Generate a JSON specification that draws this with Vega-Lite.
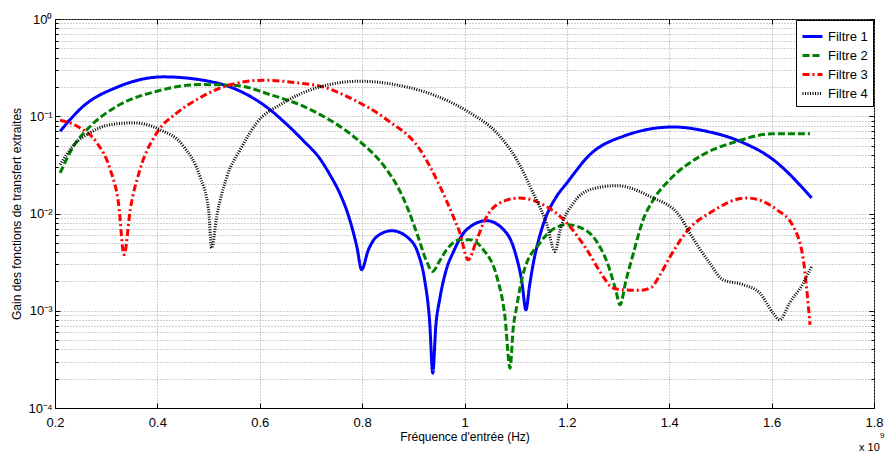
{
 "$schema": "https://vega.github.io/schema/vega-lite/v6.json",
 "width": 819, "height": 389,
 "autosize": "none",
 "padding": {"left": 55, "top": 19, "right": 11, "bottom": 46},
 "background": "white",
 "config": {
  "font": "Liberation Sans",
  "view": {"stroke": "black", "strokeWidth": 1},
  "axis": {"labelFont": "Liberation Sans", "titleFont": "Liberation Sans", "labelFontSize": 13, "titleFontSize": 12, "titleFontWeight": "normal", "labelColor": "black", "titleColor": "black", "domainColor": "black", "tickColor": "black", "gridColor": "#a0a0a0", "gridDash": [1, 2], "gridWidth": 1}
 },
 "data": {"values": [
  {"s":"Filtre 1","f":0.210,"g":0.0700},{"s":"Filtre 1","f":0.255,"g":0.1265},{"s":"Filtre 1","f":0.321,"g":0.1986},{"s":"Filtre 1","f":0.412,"g":0.2541},{"s":"Filtre 1","f":0.490,"g":0.2344},{"s":"Filtre 1","f":0.555,"g":0.1879},{"s":"Filtre 1","f":0.620,"g":0.1169},{"s":"Filtre 1","f":0.650,"g":0.0851},{"s":"Filtre 1","f":0.685,"g":0.0562},{"s":"Filtre 1","f":0.718,"g":0.0363},{"s":"Filtre 1","f":0.737,"g":0.0251},{"s":"Filtre 1","f":0.757,"g":0.01585},{"s":"Filtre 1","f":0.775,"g":0.00891},{"s":"Filtre 1","f":0.790,"g":0.00447},{"s":"Filtre 1","f":0.799,"g":0.00264},{"s":"Filtre 1","f":0.812,"g":0.00420},{"s":"Filtre 1","f":0.829,"g":0.00581},{"s":"Filtre 1","f":0.858,"g":0.00665},{"s":"Filtre 1","f":0.894,"g":0.00537},{"s":"Filtre 1","f":0.910,"g":0.00380},{"s":"Filtre 1","f":0.922,"g":0.00210},{"s":"Filtre 1","f":0.932,"g":0.000760},{"s":"Filtre 1","f":0.938,"g":0.000228},{"s":"Filtre 1","f":0.944,"g":0.000700},{"s":"Filtre 1","f":0.952,"g":0.001350},{"s":"Filtre 1","f":0.964,"g":0.00260},{"s":"Filtre 1","f":0.978,"g":0.00400},{"s":"Filtre 1","f":1.004,"g":0.00681},{"s":"Filtre 1","f":1.043,"g":0.00843},{"s":"Filtre 1","f":1.082,"g":0.00631},{"s":"Filtre 1","f":1.100,"g":0.00380},{"s":"Filtre 1","f":1.112,"g":0.00200},{"s":"Filtre 1","f":1.120,"g":0.001023},{"s":"Filtre 1","f":1.127,"g":0.00180},{"s":"Filtre 1","f":1.134,"g":0.00300},{"s":"Filtre 1","f":1.145,"g":0.00537},{"s":"Filtre 1","f":1.157,"g":0.00863},{"s":"Filtre 1","f":1.178,"g":0.01445},{"s":"Filtre 1","f":1.200,"g":0.0206},{"s":"Filtre 1","f":1.245,"g":0.0403},{"s":"Filtre 1","f":1.310,"g":0.0622},{"s":"Filtre 1","f":1.408,"g":0.0776},{"s":"Filtre 1","f":1.473,"g":0.0700},{"s":"Filtre 1","f":1.538,"g":0.0552},{"s":"Filtre 1","f":1.603,"g":0.0358},{"s":"Filtre 1","f":1.678,"g":0.01445},
  {"s":"Filtre 2","f":0.210,"g":0.0261},{"s":"Filtre 2","f":0.236,"g":0.0491},{"s":"Filtre 2","f":0.269,"g":0.0789},{"s":"Filtre 2","f":0.321,"g":0.1268},{"s":"Filtre 2","f":0.399,"g":0.1807},{"s":"Filtre 2","f":0.483,"g":0.2118},{"s":"Filtre 2","f":0.555,"g":0.2070},{"s":"Filtre 2","f":0.620,"g":0.1671},{"s":"Filtre 2","f":0.685,"g":0.1268},{"s":"Filtre 2","f":0.718,"g":0.1040},{"s":"Filtre 2","f":0.783,"g":0.0622},{"s":"Filtre 2","f":0.848,"g":0.02825},{"s":"Filtre 2","f":0.870,"g":0.01862},{"s":"Filtre 2","f":0.890,"g":0.01096},{"s":"Filtre 2","f":0.910,"g":0.00562},{"s":"Filtre 2","f":0.925,"g":0.00331},{"s":"Filtre 2","f":0.938,"g":0.002535},{"s":"Filtre 2","f":0.950,"g":0.00316},{"s":"Filtre 2","f":0.965,"g":0.004236},{"s":"Filtre 2","f":0.991,"g":0.00537},{"s":"Filtre 2","f":1.011,"g":0.00537},{"s":"Filtre 2","f":1.037,"g":0.004236},{"s":"Filtre 2","f":1.063,"g":0.002254},{"s":"Filtre 2","f":1.079,"g":0.000873},{"s":"Filtre 2","f":1.089,"g":0.000257},{"s":"Filtre 2","f":1.095,"g":0.000646},{"s":"Filtre 2","f":1.102,"g":0.001107},{"s":"Filtre 2","f":1.115,"g":0.002443},{"s":"Filtre 2","f":1.147,"g":0.004966},{"s":"Filtre 2","f":1.175,"g":0.00700},{"s":"Filtre 2","f":1.200,"g":0.00767},{"s":"Filtre 2","f":1.239,"g":0.00661},{"s":"Filtre 2","f":1.262,"g":0.00479},{"s":"Filtre 2","f":1.280,"g":0.00302},{"s":"Filtre 2","f":1.295,"g":0.00166},{"s":"Filtre 2","f":1.304,"g":0.001151},{"s":"Filtre 2","f":1.315,"g":0.00200},{"s":"Filtre 2","f":1.330,"g":0.00392},{"s":"Filtre 2","f":1.349,"g":0.00863},{"s":"Filtre 2","f":1.369,"g":0.01387},{"s":"Filtre 2","f":1.401,"g":0.0223},{"s":"Filtre 2","f":1.460,"g":0.0387},{"s":"Filtre 2","f":1.532,"g":0.0552},{"s":"Filtre 2","f":1.603,"g":0.0662},{"s":"Filtre 2","f":1.675,"g":0.0662},
  {"s":"Filtre 3","f":0.210,"g":0.0910},{"s":"Filtre 3","f":0.249,"g":0.0759},{"s":"Filtre 3","f":0.282,"g":0.0532},{"s":"Filtre 3","f":0.308,"g":0.02825},{"s":"Filtre 3","f":0.324,"g":0.01282},{"s":"Filtre 3","f":0.335,"g":0.003767},{"s":"Filtre 3","f":0.347,"g":0.01094},{"s":"Filtre 3","f":0.366,"g":0.02825},{"s":"Filtre 3","f":0.399,"g":0.0675},{"s":"Filtre 3","f":0.438,"g":0.1081},{"s":"Filtre 3","f":0.483,"g":0.1545},{"s":"Filtre 3","f":0.529,"g":0.2004},{"s":"Filtre 3","f":0.607,"g":0.2344},{"s":"Filtre 3","f":0.685,"g":0.2168},{"s":"Filtre 3","f":0.718,"g":0.2037},{"s":"Filtre 3","f":0.783,"g":0.1483},{"s":"Filtre 3","f":0.848,"g":0.0925},{"s":"Filtre 3","f":0.913,"g":0.0454},{"s":"Filtre 3","f":0.952,"g":0.01901},{"s":"Filtre 3","f":0.978,"g":0.00933},{"s":"Filtre 3","f":0.991,"g":0.00631},{"s":"Filtre 3","f":1.007,"g":0.00334},{"s":"Filtre 3","f":1.024,"g":0.00537},{"s":"Filtre 3","f":1.040,"g":0.00863},{"s":"Filtre 3","f":1.069,"g":0.01282},{"s":"Filtre 3","f":1.108,"g":0.01445},{"s":"Filtre 3","f":1.147,"g":0.01282},{"s":"Filtre 3","f":1.200,"g":0.00798},{"s":"Filtre 3","f":1.239,"g":0.00424},{"s":"Filtre 3","f":1.271,"g":0.00224},{"s":"Filtre 3","f":1.285,"g":0.00178},{"s":"Filtre 3","f":1.300,"g":0.00166},{"s":"Filtre 3","f":1.343,"g":0.00162},{"s":"Filtre 3","f":1.365,"g":0.00174},{"s":"Filtre 3","f":1.380,"g":0.00224},{"s":"Filtre 3","f":1.401,"g":0.00355},{"s":"Filtre 3","f":1.440,"g":0.0071},{"s":"Filtre 3","f":1.479,"g":0.01012},{"s":"Filtre 3","f":1.551,"g":0.01445},{"s":"Filtre 3","f":1.610,"g":0.01094},{"s":"Filtre 3","f":1.642,"g":0.00736},{"s":"Filtre 3","f":1.662,"g":0.00334},{"s":"Filtre 3","f":1.668,"g":0.001778},{"s":"Filtre 3","f":1.675,"g":0.000716},
  {"s":"Filtre 4","f":0.210,"g":0.0318},{"s":"Filtre 4","f":0.236,"g":0.0501},{"s":"Filtre 4","f":0.269,"g":0.0679},{"s":"Filtre 4","f":0.308,"g":0.0820},{"s":"Filtre 4","f":0.353,"g":0.0853},{"s":"Filtre 4","f":0.405,"g":0.0729},{"s":"Filtre 4","f":0.451,"g":0.0491},{"s":"Filtre 4","f":0.483,"g":0.0241},{"s":"Filtre 4","f":0.500,"g":0.01094},{"s":"Filtre 4","f":0.506,"g":0.004416},{"s":"Filtre 4","f":0.516,"g":0.00933},{"s":"Filtre 4","f":0.536,"g":0.0241},{"s":"Filtre 4","f":0.562,"g":0.0454},{"s":"Filtre 4","f":0.594,"g":0.0853},{"s":"Filtre 4","f":0.646,"g":0.1371},{"s":"Filtre 4","f":0.711,"g":0.1959},{"s":"Filtre 4","f":0.796,"g":0.2291},{"s":"Filtre 4","f":0.880,"g":0.2037},{"s":"Filtre 4","f":0.946,"g":0.1607},{"s":"Filtre 4","f":1.011,"g":0.1081},{"s":"Filtre 4","f":1.063,"g":0.0675},{"s":"Filtre 4","f":1.102,"g":0.0358},{"s":"Filtre 4","f":1.134,"g":0.01626},{"s":"Filtre 4","f":1.160,"g":0.00798},{"s":"Filtre 4","f":1.177,"g":0.004074},{"s":"Filtre 4","f":1.187,"g":0.00681},{"s":"Filtre 4","f":1.213,"g":0.01282},{"s":"Filtre 4","f":1.245,"g":0.01758},{"s":"Filtre 4","f":1.297,"g":0.01932},{"s":"Filtre 4","f":1.362,"g":0.0150},{"s":"Filtre 4","f":1.421,"g":0.00933},{"s":"Filtre 4","f":1.440,"g":0.00631},{"s":"Filtre 4","f":1.479,"g":0.00309},{"s":"Filtre 4","f":1.505,"g":0.002084},{"s":"Filtre 4","f":1.545,"g":0.00185},{"s":"Filtre 4","f":1.577,"g":0.00152},{"s":"Filtre 4","f":1.603,"g":0.000946},{"s":"Filtre 4","f":1.616,"g":0.000807},{"s":"Filtre 4","f":1.635,"g":0.0012},{"s":"Filtre 4","f":1.662,"g":0.001923},{"s":"Filtre 4","f":1.678,"g":0.00285}
 ]},
 "layer": [
  {
   "mark": {"type": "line", "interpolate": "monotone"},
   "encoding": {
    "x": {"field": "f", "type": "quantitative", "scale": {"domain": [0.2, 1.8], "nice": false, "zero": false},
      "axis": {"orient": "bottom", "title": "Fréquence d'entrée (Hz)", "values": [0.2,0.4,0.6,0.8,1.0,1.2,1.4,1.6,1.8], "labelExpr": "format(datum.value, '.1f') == '1.0' ? '1' : format(datum.value, '.1f')", "labelFlush": false, "labelOverlap": false, "grid": true, "tickSize": -5, "labelPadding": 13, "titlePadding": 2}},
    "y": {"field": "g", "type": "quantitative", "scale": {"type": "log", "domain": [0.0001, 1], "nice": false},
      "axis": {"orient": "left", "title": "Gain des fonctions de transfert extraites", "values": [0.0001,0.0002,0.0003,0.0004,0.0005,0.0006,0.0007,0.0008,0.0009,0.001,0.002,0.003,0.004,0.005,0.006,0.007,0.008,0.009,0.01,0.02,0.03,0.04,0.05,0.06,0.07,0.08,0.09,0.1,0.2,0.3,0.4,0.5,0.6,0.7,0.8,0.9,1],
        "labelExpr": "datum.value == 1 ? '10⁰' : datum.value == 0.1 ? '10⁻¹' : datum.value == 0.01 ? '10⁻²' : datum.value == 0.001 ? '10⁻³' : datum.value == 0.0001 ? '10⁻⁴' : ''",
        "labelOverlap": false, "labelFlush": false, "grid": true,
        "tickSize": {"condition": {"test": "datum.value == 1 || datum.value == 0.1 || datum.value == 0.01 || datum.value == 0.001 || datum.value == 0.0001", "value": -5}, "value": -3},
        "labelPadding": 8, "titlePadding": 4}},
    "color": {"field": "s", "type": "nominal", "scale": {"domain": ["Filtre 1","Filtre 2","Filtre 3","Filtre 4"], "range": ["#0000ff","#008000","#ff0000","#000000"]},
      "legend": {"title": null, "orient": "none", "legendX": 741, "legendY": 1, "strokeColor": "black", "fillColor": "white", "padding": 5, "columnPadding": 0, "symbolType": "stroke", "symbolSize": 400, "symbolStrokeWidth": 3, "labelFontSize": 13, "labelFont": "Liberation Sans", "labelOffset": 4, "rowPadding": 0, "labelColor": "black"}},
    "strokeDash": {"field": "s", "type": "nominal", "scale": {"domain": ["Filtre 1","Filtre 2","Filtre 3","Filtre 4"], "range": [[1,0],[7,3],[7,3,2,3],[1,1.5]]},
      "legend": {"title": null, "orient": "none", "legendX": 741, "legendY": 1, "strokeColor": "black", "fillColor": "white", "padding": 5, "columnPadding": 0, "symbolType": "stroke", "symbolSize": 400, "symbolStrokeWidth": 3, "labelFontSize": 13, "labelFont": "Liberation Sans", "labelOffset": 4, "rowPadding": 0, "labelColor": "black"}},
    "strokeWidth": {"field": "s", "type": "nominal", "scale": {"domain": ["Filtre 1","Filtre 2","Filtre 3","Filtre 4"], "range": [3,3,3,2.2]}, "legend": null}
   }
  },
  {
   "mark": {"type": "line", "opacity": 0},
   "encoding": {
    "x": {"field": "f", "type": "quantitative", "axis": {"orient": "top", "title": null, "labels": false, "grid": false, "values": [0.2,0.4,0.6,0.8,1.0,1.2,1.4,1.6,1.8], "tickSize": -5, "domain": false}},
    "y": {"field": "g", "type": "quantitative", "axis": {"orient": "right", "title": null, "labels": false, "grid": false, "domain": false, "values": [0.0001,0.0002,0.0003,0.0004,0.0005,0.0006,0.0007,0.0008,0.0009,0.001,0.002,0.003,0.004,0.005,0.006,0.007,0.008,0.009,0.01,0.02,0.03,0.04,0.05,0.06,0.07,0.08,0.09,0.1,0.2,0.3,0.4,0.5,0.6,0.7,0.8,0.9,1],
      "tickSize": {"condition": {"test": "datum.value == 1 || datum.value == 0.1 || datum.value == 0.01 || datum.value == 0.001 || datum.value == 0.0001", "value": -5}, "value": -3}}},
    "detail": {"field": "s"}
   }
  },
  {
   "data": {"values": [{"t": "x 10", "e": "9"}]},
   "layer": [
    {"mark": {"type": "text", "align": "left", "baseline": "alphabetic", "dx": -15, "dy": 43, "fontSize": 11, "font": "Liberation Sans", "color": "black"},
     "encoding": {"x": {"datum": 1.8, "type": "quantitative", "axis": null}, "y": {"datum": 0.0001, "type": "quantitative", "axis": null}, "text": {"field": "t"}}},
    {"mark": {"type": "text", "align": "left", "baseline": "alphabetic", "dx": 6, "dy": 30, "fontSize": 8, "font": "Liberation Sans", "color": "black"},
     "encoding": {"x": {"datum": 1.8, "type": "quantitative", "axis": null}, "y": {"datum": 0.0001, "type": "quantitative", "axis": null}, "text": {"field": "e"}}}
   ]
  }
 ],
 "resolve": {"axis": {"x": "independent", "y": "independent"}}
}
